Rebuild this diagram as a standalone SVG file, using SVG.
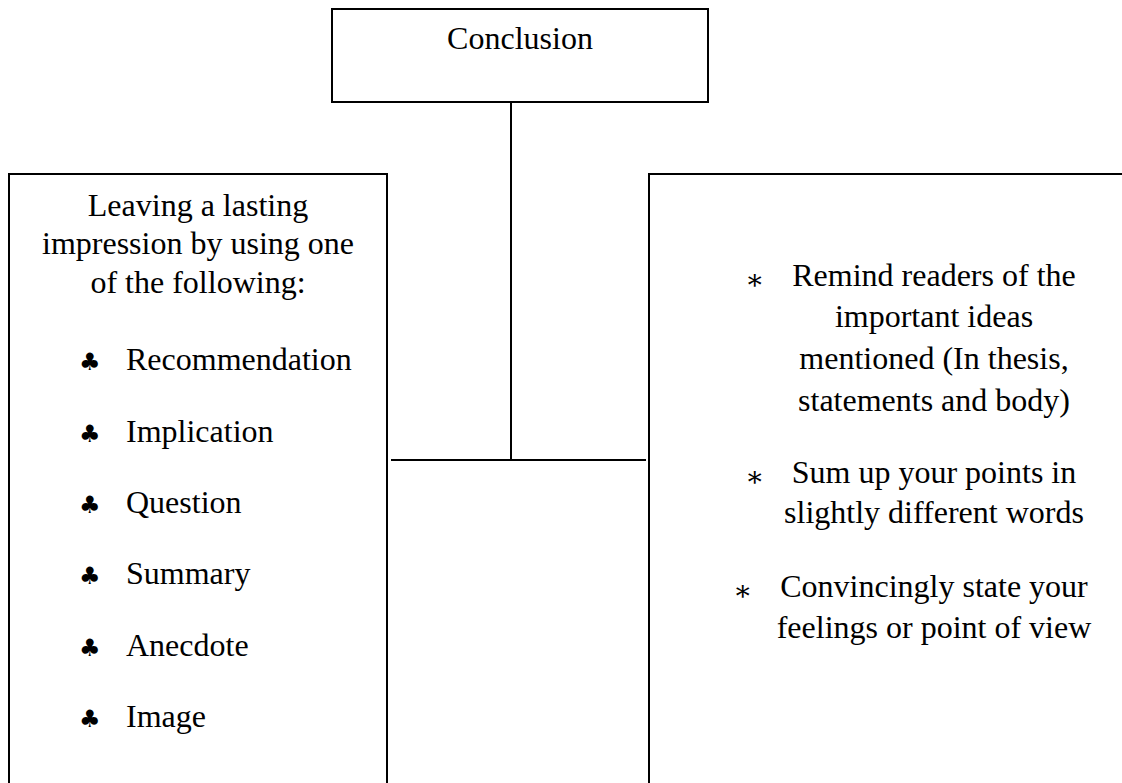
<svg xmlns="http://www.w3.org/2000/svg" width="1122" height="783" viewBox="0 0 1122 783">
  <style>
    .box { fill: #ffffff; stroke: #000000; stroke-width: 2; }
    .wire { fill: none; stroke: #000000; stroke-width: 2; }
    .t { font-family: "Liberation Serif", "Times New Roman", serif; font-size: 32px; fill: #000000; }
    .c { text-anchor: middle; }
    .club { font-family: "DejaVu Sans", sans-serif; font-size: 24px; fill: #000000; }
    .star { font-family: "DejaVu Serif", "Liberation Serif", serif; font-size: 28px; fill: #000000; }
  </style>

  <rect width="1122" height="783" fill="#ffffff"/>

  <!-- connectors -->
  <g id="connectors">
    <line class="wire" x1="511" y1="102" x2="511" y2="460"/>
    <line class="wire" x1="391" y1="460" x2="646" y2="460"/>
  </g>

  <!-- top node -->
  <g id="conclusion">
    <rect class="box" x="332" y="9" width="376" height="93"/>
    <text class="t c" x="520" y="49">Conclusion</text>
  </g>

  <!-- left node: ways to leave a lasting impression -->
  <g id="lasting-impression">
    <rect class="box" x="9" y="174" width="378" height="700"/>
    <text class="t c" x="198" y="216">Leaving a lasting</text>
    <text class="t c" x="198" y="254">impression by using one</text>
    <text class="t c" x="198" y="293">of the following:</text>
    <g class="club">
      <text x="79" y="370">♣</text>
      <text x="79" y="442">♣</text>
      <text x="79" y="513">♣</text>
      <text x="79" y="584">♣</text>
      <text x="79" y="656">♣</text>
      <text x="79" y="727">♣</text>
    </g>
    <text class="t" x="126" y="370">Recommendation</text>
    <text class="t" x="126" y="442">Implication</text>
    <text class="t" x="126" y="513">Question</text>
    <text class="t" x="126" y="584">Summary</text>
    <text class="t" x="126" y="656">Anecdote</text>
    <text class="t" x="126" y="727">Image</text>
  </g>

  <!-- right node: restating the main points -->
  <g id="restate-points">
    <rect class="box" x="649" y="174" width="600" height="700"/>
    <text class="star" x="745" y="289">∗</text>
    <text class="t c" x="934" y="286">Remind readers of the</text>
    <text class="t c" x="934" y="327">important ideas</text>
    <text class="t c" x="934" y="369">mentioned (In thesis,</text>
    <text class="t c" x="934" y="411">statements and body)</text>
    <text class="star" x="745" y="486">∗</text>
    <text class="t c" x="934" y="483">Sum up your points in</text>
    <text class="t c" x="934" y="523">slightly different words</text>
    <text class="star" x="733" y="600">∗</text>
    <text class="t c" x="934" y="597">Convincingly state your</text>
    <text class="t c" x="934" y="638">feelings or point of view</text>
  </g>
</svg>
